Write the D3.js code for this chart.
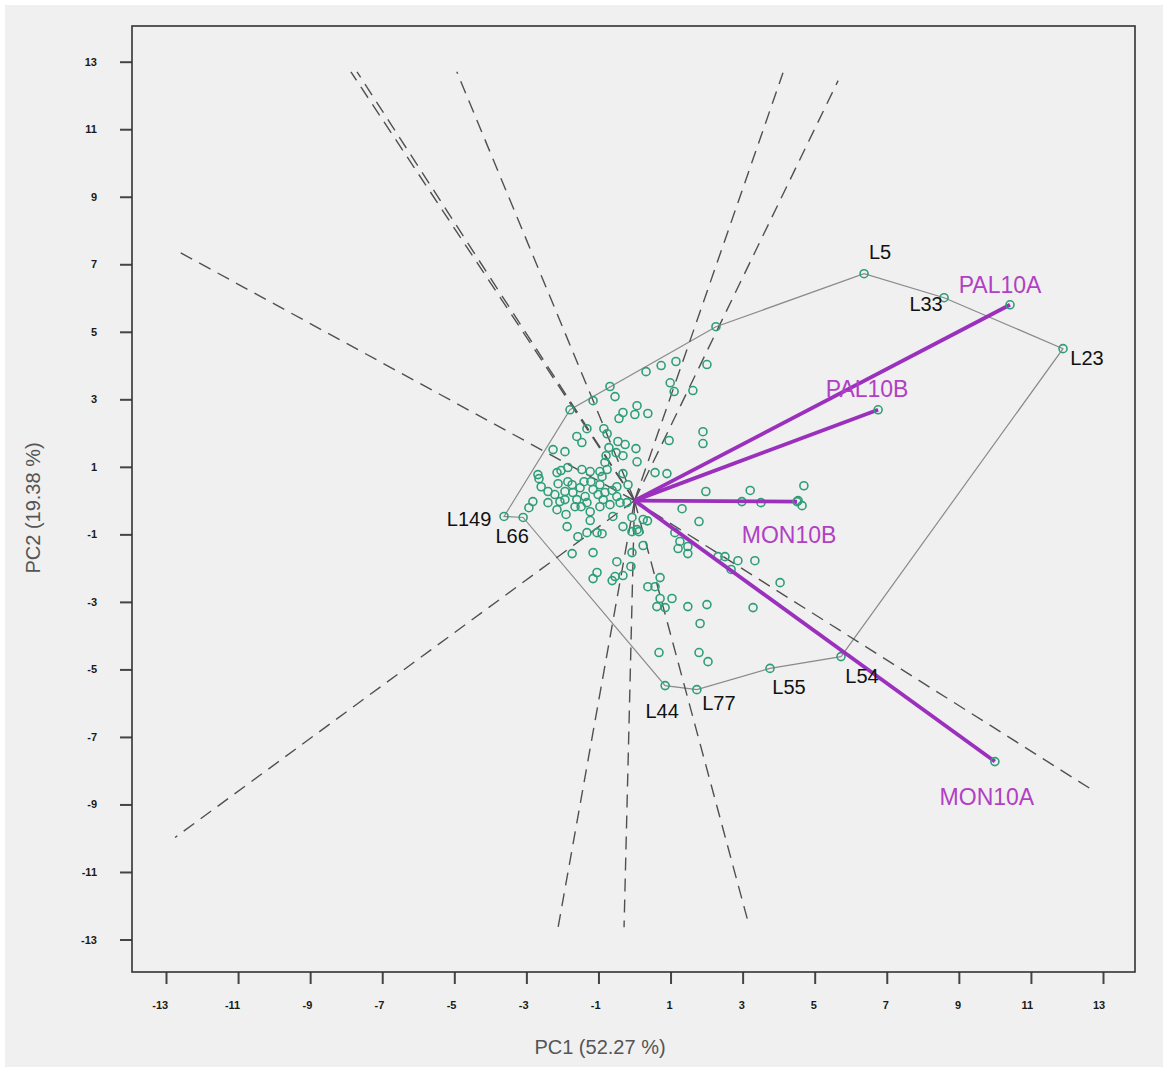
<!DOCTYPE html>
<html>
<head>
<meta charset="utf-8">
<script src="https://cdn.jsdelivr.net/npm/d3@7"></script>
<style>
  body { margin: 0; background: #fff; }
  text { font-family: Arial, "Liberation Sans", sans-serif; }
</style>
</head>
<body>
<div id="chart"></div>
<script>
// genotype scores (PC1, PC2)
var pc1 = [2.01, 1.15, 0.74, 0.32, -0.68, -0.54, -1.15, 0.99, 1.10, 1.62, 0.07, -0.32, -0.43, 0.01, 0.37,
  1.90, 1.90, 0.96, -1.32, -0.85, -1.60, -1.46, -0.76, -0.71, -0.46, -0.26, -0.51, -0.32, 0.04, 0.07,
  -2.26, -1.93, -0.82, -0.32, 0.57, 0.90, -2.68, -2.65, -2.15, -2.04, -1.85, -1.46, -1.23, -0.96, -0.76,
  -2.59, -2.40, -2.82, -2.93, -2.40, -2.12, -1.85, -1.93, -1.93, -2.15, -1.90, -1.87, -1.71, -1.51, -1.40,
  -1.21, -1.60, -1.37, -1.32, -1.23, -1.15, -1.01, -0.96, -0.82, -0.87, -0.90, -0.79, -0.49, -1.23, -1.57,
  -1.32, -1.04, -0.90, -0.60, -0.32, 0.07, 0.24, -0.49, -0.40, -0.21, -1.65, -1.48, -0.96, -0.68, -0.07,
  0.36, -0.07, 0.12, -1.73, -1.15, -0.07, 0.24, -0.49, -0.10, -1.04, -1.15, -0.62, -0.54, -0.32, 0.37,
  0.57, 0.62, 0.71, 0.68, 1.32, 1.79, 1.12, 1.26, 1.21, 1.48, 1.48, 2.32, 2.51, 2.87, 2.68,
  3.34, 4.04, 0.71, 1.04, 0.85, 1.48, 2.01, 3.29, 1.82, 1.79, 2.04, 1.98, 3.21, 4.70, 2.98,
  3.51, 4.54, 4.65, -2.07, -1.73, -0.62, -2.21, -0.18];
var pc2 = [4.03, 4.12, 4.00, 3.82, 3.38, 3.08, 2.96, 3.49, 3.23, 3.26, 2.81, 2.61, 2.43, 2.55, 2.58,
  2.04, 1.69, 1.78, 2.13, 2.13, 1.90, 1.72, 1.98, 1.57, 1.75, 1.66, 1.42, 1.33, 1.54, 1.15,
  1.51, 1.45, 1.13, 0.80, 0.83, 0.80, 0.77, 0.65, 0.83, 0.89, 0.98, 0.92, 0.86, 0.86, 0.92,
  0.41, 0.27, -0.03, -0.21, -0.06, 0.50, 0.56, 0.27, 0.03, -0.27, -0.41, -0.77, 0.24, 0.38, 0.56,
  0.56, 0.03, 0.12, -0.06, -0.33, 0.33, 0.18, 0.47, 0.24, 0.03, 0.71, 1.33, 0.41, -0.59, -1.07,
  -0.95, -0.95, -0.98, -0.47, -0.77, -0.86, -0.56, 0.12, -0.06, -0.06, -0.18, -0.18, -0.18, -0.12, -0.50,
  -0.60, -0.92, -0.92, -1.57, -1.54, -1.54, -1.33, -1.81, -1.95, -2.13, -2.31, -2.37, -2.25, -2.22, -2.55,
  -2.55, -3.14, -2.28, -4.50, -0.24, -0.62, -0.95, -1.21, -1.42, -1.36, -1.57, -1.66, -1.66, -1.78, -2.04,
  -1.78, -2.43, -2.90, -2.90, -3.17, -3.14, -3.08, -3.17, -3.64, -4.50, -4.77, 0.27, 0.30, 0.44, -0.03,
  -0.06, 0.00, -0.15, -0.03, 0.47, 0.30, 0.18, 0.47];

// labelled (vertex) genotypes
var genoNames = ["L149", "L66", "L44", "L77", "L55", "L54", "L23", "L33", "L5"];
var genoPC1 = [-3.62, -3.09, 0.85, 1.73, 3.76, 5.73, 11.89, 8.59, 6.37];
var genoPC2 = [-0.47, -0.50, -5.48, -5.60, -4.97, -4.62, 4.50, 6.01, 6.72];

// polygon vertices in drawing order
var hullPC1 = [-3.62, -1.79, 2.26, 6.37, 8.59, 11.89, 5.73, 3.76, 1.73, 0.85, -3.09];
var hullPC2 = [-0.47, 2.69, 5.15, 6.72, 6.01, 4.50, -4.62, -4.97, -5.60, -5.48, -0.50];

// environments
var envNames = ["PAL10A", "PAL10B", "MON10B", "MON10A"];
var envPC1 = [10.42, 6.76, 4.51, 10.00];
var envPC2 = [5.80, 2.69, -0.03, -7.73];

// rays perpendicular to the polygon sides (end points)
var rayPC1 = [-12.75, -12.75, 12.69, -7.87, -7.70, -4.93, 4.12, 5.65, -2.12, -0.29, 3.15];
var rayPC2 = [7.43, -9.98, -8.56, 12.70, 12.70, 12.70, 12.67, 12.44, -12.64, -12.64, -12.47];

var tickVals = [-13, -11, -9, -7, -5, -3, -1, 1, 3, 5, 7, 9, 11, 13];

var width = 1168, height = 1072;
var box = { left: 132, right: 1135, top: 26, bottom: 972 };

var svg = d3.select("#chart").append("svg")
    .attr("width", width)
    .attr("height", height);

svg.append("rect")
    .attr("x", 5).attr("y", 5)
    .attr("width", width - 10).attr("height", height - 10)
    .attr("fill", "#f0f0f0");

var x = d3.scaleLinear().domain([-13, 13]).range([166, 1103]);
var y = d3.scaleLinear().domain([-13, 13]).range([939.5, 61.7]);

var fmt = function(d) { return String(d); }; // plain hyphen minus

// axes
var yAxis = svg.append("g")
    .attr("transform", "translate(" + box.left + ",0)")
    .call(d3.axisLeft(y).tickValues(tickVals).tickFormat(fmt).tickSize(12).tickPadding(23));
var xAxis = svg.append("g")
    .attr("transform", "translate(0," + box.bottom + ")")
    .call(d3.axisBottom(x).tickValues(tickVals).tickFormat(fmt).tickSize(12).tickPadding(17));

[xAxis, yAxis].forEach(function(g) {
    g.select(".domain").remove();
    g.selectAll(".tick line").attr("stroke", "#444").attr("stroke-width", 2);
    g.selectAll(".tick text")
        .attr("fill", "#1a1a1a")
        .style("font-size", "11px")
        .style("font-weight", "bold")
        .style("font-family", "Arial, 'Liberation Sans', sans-serif");
});
xAxis.selectAll(".tick text").attr("text-anchor", "end").attr("dx", "0.15em");

svg.append("rect")
    .attr("x", box.left).attr("y", box.top)
    .attr("width", box.right - box.left).attr("height", box.bottom - box.top)
    .attr("fill", "none")
    .attr("stroke", "#333")
    .attr("stroke-width", 1.6);

svg.append("text")
    .attr("x", 600).attr("y", 1054)
    .attr("text-anchor", "middle")
    .attr("fill", "#555")
    .style("font-size", "20px")
    .text("PC1 (52.27 %)");

svg.append("text")
    .attr("transform", "translate(40,508) rotate(-90)")
    .attr("text-anchor", "middle")
    .attr("fill", "#555")
    .style("font-size", "20px")
    .text("PC2 (19.38 %)");

// polygon
var hull = hullPC1.map(function(d, i) { return [x(d), y(hullPC2[i])]; });
svg.append("path")
    .attr("d", d3.line()(hull) + "Z")
    .attr("fill", "none")
    .attr("stroke", "#8a8a8a")
    .attr("stroke-width", 1.2);

// dashed rays
svg.selectAll(".ray")
    .data(rayPC1)
    .enter().append("line")
    .attr("class", "ray")
    .attr("x1", x(0)).attr("y1", y(0))
    .attr("x2", function(d) { return x(d); })
    .attr("y2", function(d, i) { return y(rayPC2[i]); })
    .attr("stroke", "#505050")
    .attr("stroke-width", 1.4)
    .attr("stroke-dasharray", "13,8");

// genotypes
var green = "#2e9e78";
function ring(sel) {
    sel.attr("r", 4)
        .attr("fill", "none")
        .attr("stroke", green)
        .attr("stroke-width", 1.6);
}

svg.selectAll(".pt")
    .data(pc1)
    .enter().append("circle")
    .attr("class", "pt")
    .attr("cx", function(d) { return x(d); })
    .attr("cy", function(d, i) { return y(pc2[i]); })
    .call(ring);

svg.selectAll(".gpt")
    .data(genoPC1)
    .enter().append("circle")
    .attr("class", "gpt")
    .attr("cx", function(d) { return x(d); })
    .attr("cy", function(d, i) { return y(genoPC2[i]); })
    .call(ring);

svg.selectAll(".hv")
    .data([1, 2])
    .enter().append("circle")
    .attr("class", "hv")
    .attr("cx", function(d) { return x(hullPC1[d]); })
    .attr("cy", function(d) { return y(hullPC2[d]); })
    .call(ring);

// environment vectors
svg.selectAll(".vec")
    .data(envPC1)
    .enter().append("line")
    .attr("class", "vec")
    .attr("x1", x(0)).attr("y1", y(0))
    .attr("x2", function(d) { return x(d); })
    .attr("y2", function(d, i) { return y(envPC2[i]); })
    .attr("stroke", "#9b30bd")
    .attr("stroke-width", 3.8);

svg.selectAll(".env")
    .data(envPC1)
    .enter().append("circle")
    .attr("class", "env")
    .attr("cx", function(d) { return x(d); })
    .attr("cy", function(d, i) { return y(envPC2[i]); })
    .call(ring);

// labels
var genoOffset = [[-35, 2], [-11, 18], [-3, 25], [22, 13], [19, 18], [21, 19], [24, 9], [-18, 6], [16, -22]];
svg.selectAll(".glab")
    .data(genoNames)
    .enter().append("text")
    .attr("class", "glab")
    .attr("x", function(d, i) { return x(genoPC1[i]) + genoOffset[i][0]; })
    .attr("y", function(d, i) { return y(genoPC2[i]) + genoOffset[i][1]; })
    .attr("dy", "0.36em")
    .attr("text-anchor", "middle")
    .attr("fill", "#111")
    .style("font-size", "20px")
    .text(function(d) { return d; });

var envOffset = [[-10, -20], [-11, -21], [-8, 33], [-8, 35]];
svg.selectAll(".elab")
    .data(envNames)
    .enter().append("text")
    .attr("class", "elab")
    .attr("x", function(d, i) { return x(envPC1[i]) + envOffset[i][0]; })
    .attr("y", function(d, i) { return y(envPC2[i]) + envOffset[i][1]; })
    .attr("dy", "0.36em")
    .attr("text-anchor", "middle")
    .attr("fill", "#b040c4")
    .style("font-size", "23px")
    .text(function(d) { return d; });
</script>
</body>
</html>
